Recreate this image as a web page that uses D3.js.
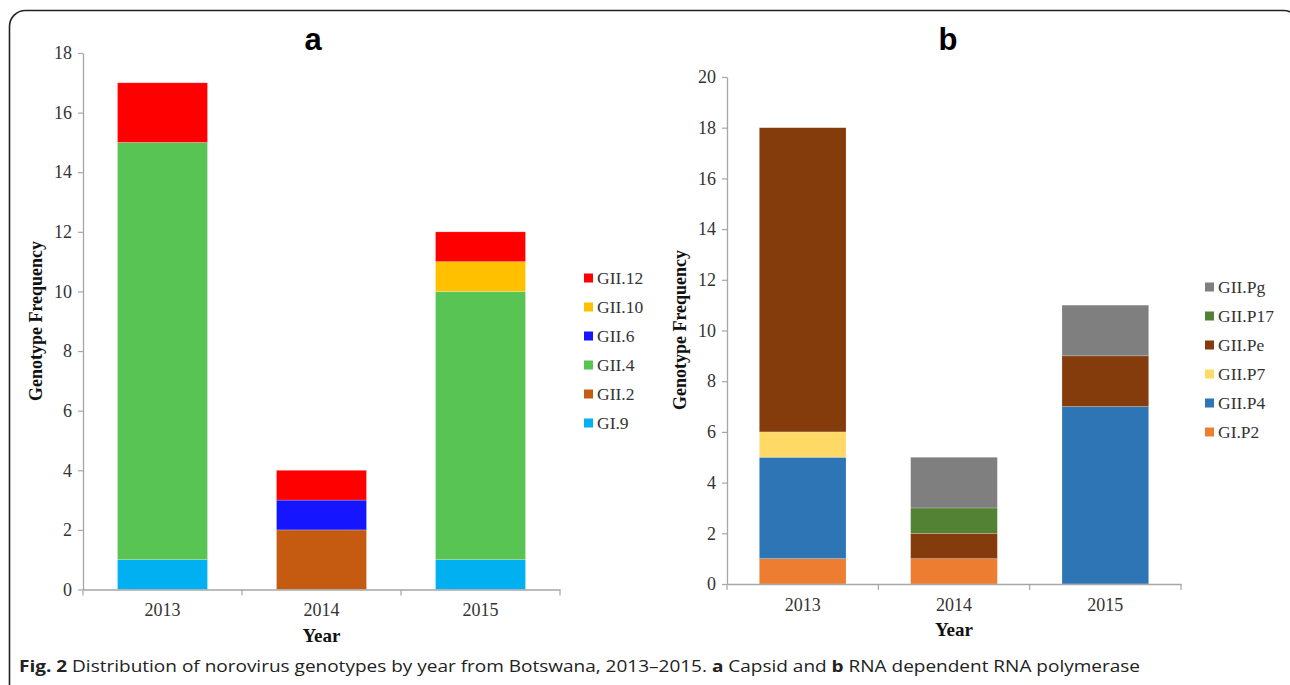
<!DOCTYPE html>
<html><head><meta charset="utf-8">
<script src="https://cdn.jsdelivr.net/npm/d3@7"></script>
<style>
html,body{margin:0;padding:0;background:#fff;}
svg{display:block;}
</style></head>
<body>
<svg id="c" width="1290" height="685"></svg>
<script>
// ---- data ----
const years = ["2013", "2014", "2015"];

// Panel a: capsid genotypes (bottom -> top)
const seriesA = ["GI.9", "GII.2", "GII.4", "GII.6", "GII.10", "GII.12"];
const colorsA = ["#00b0f0", "#c55a11", "#58c453", "#1515ff", "#ffc000", "#ff0000"];
const valuesA_GI9   = [1, 0, 1];
const valuesA_GII2  = [0, 2, 0];
const valuesA_GII4  = [14, 0, 9];
const valuesA_GII6  = [0, 1, 0];
const valuesA_GII10 = [0, 0, 1];
const valuesA_GII12 = [2, 1, 1];
const ticksA = [0, 2, 4, 6, 8, 10, 12, 14, 16, 18];

// Panel b: RdRp genotypes (bottom -> top)
const seriesB = ["GI.P2", "GII.P4", "GII.P7", "GII.Pe", "GII.P17", "GII.Pg"];
const colorsB = ["#ed7d31", "#2e75b6", "#ffd966", "#843c0c", "#548235", "#7f7f7f"];
const valuesB_GIP2   = [1, 1, 0];
const valuesB_GIIP4  = [4, 0, 7];
const valuesB_GIIP7  = [1, 0, 0];
const valuesB_GIIPe  = [12, 1, 2];
const valuesB_GIIP17 = [0, 1, 0];
const valuesB_GIIPg  = [0, 2, 2];
const ticksB = [0, 2, 4, 6, 8, 10, 12, 14, 16, 18, 20];

const caption = "Distribution of norovirus genotypes by year from Botswana, 2013\u20132015.";

const tableA = years.map((y, i) => ({year: y,
  "GI.9": valuesA_GI9[i], "GII.2": valuesA_GII2[i], "GII.4": valuesA_GII4[i],
  "GII.6": valuesA_GII6[i], "GII.10": valuesA_GII10[i], "GII.12": valuesA_GII12[i]}));
const tableB = years.map((y, i) => ({year: y,
  "GI.P2": valuesB_GIP2[i], "GII.P4": valuesB_GIIP4[i], "GII.P7": valuesB_GIIP7[i],
  "GII.Pe": valuesB_GIIPe[i], "GII.P17": valuesB_GIIP17[i], "GII.Pg": valuesB_GIIPg[i]}));

const svg = d3.select("#c");

// frame
svg.append("rect").attr("x", 9.5).attr("y", 10.5).attr("width", 1290).attr("height", 700)
  .attr("rx", 16).attr("fill", "#fff").attr("stroke", "#222").attr("stroke-width", 1.6);

const serif = "'Liberation Serif','Times New Roman',serif";
const axisCol = "#a6a6a6";
const textCol = "#333";

function panel(cfg) {
  const g = svg.append("g");
  const x = d3.scaleBand().domain(years).range([cfg.x0, cfg.x1]).paddingInner(cfg.pad).paddingOuter(cfg.pad / 2);
  const y = d3.scaleLinear().domain([0, cfg.max]).range([cfg.y0, cfg.y1]);
  const stack = d3.stack().keys(cfg.series)(cfg.table);
  const color = d3.scaleOrdinal().domain(cfg.series).range(cfg.colors);

  g.selectAll("g.layer").data(stack).join("g").attr("class", "layer")
    .attr("fill", d => color(d.key))
    .selectAll("rect").data(d => d.filter(p => p[1] - p[0] > 0)).join("rect")
    .attr("x", d => x(d.data.year)).attr("width", x.bandwidth())
    .attr("y", d => y(d[1])).attr("height", d => y(d[0]) - y(d[1]))
    .attr("stroke", "rgba(255,255,255,0.35)").attr("stroke-width", 0.6);

  // y axis
  const ya = g.append("g").attr("transform", `translate(${cfg.x0},0)`)
    .call(d3.axisLeft(y).tickValues(cfg.ticks).tickSize(5).tickPadding(6).tickSizeOuter(0));
  ya.select(".domain").attr("stroke", axisCol).attr("stroke-width", 1.3);
  ya.selectAll(".tick line").attr("stroke", axisCol).attr("stroke-width", 1.2);
  ya.selectAll(".tick text").attr("font-family", serif).attr("font-size", 18).attr("fill", textCol);

  // x axis
  const xa = g.append("g").attr("transform", `translate(0,${cfg.y0})`)
    .call(d3.axisBottom(x).tickSize(0).tickPadding(14));
  xa.select(".domain").attr("stroke", axisCol).attr("stroke-width", 1.3);
  xa.selectAll(".tick text").attr("font-family", serif).attr("font-size", 18).attr("fill", textCol);
  // category boundary ticks
  const edges = years.map(yr => x(yr) - x.step() * x.paddingInner() / 2).concat([cfg.x1]);
  xa.selectAll("line.edge").data(edges).join("line").attr("class", "edge")
    .attr("x1", d => d).attr("x2", d => d).attr("y1", 0).attr("y2", 6)
    .attr("stroke", axisCol).attr("stroke-width", 1.2);

  // axis titles
  g.append("text").attr("x", (cfg.x0 + cfg.x1) / 2).attr("y", cfg.yearY)
    .attr("text-anchor", "middle").attr("font-family", serif).attr("font-weight", "bold")
    .attr("font-size", 19).attr("fill", "#111").text("Year");
  g.append("text").attr("transform", `translate(${cfg.ylabX},${cfg.ylabY}) rotate(-90)`)
    .attr("text-anchor", "middle").attr("font-family", serif).attr("font-weight", "bold")
    .attr("font-size", 18).attr("fill", "#111").text("Genotype Frequency");

  // panel letter
  g.append("text").attr("x", cfg.titleX).attr("y", 50).attr("text-anchor", "middle")
    .attr("font-family", "'Liberation Sans',Arial,sans-serif").attr("font-weight", "bold")
    .attr("font-size", 31).attr("fill", "#000").text(cfg.title);

  // legend (top = last series)
  const legItems = cfg.series.slice().reverse();
  const lg = g.append("g");
  legItems.forEach((s, i) => {
    const cy = cfg.legY + i * 29;
    lg.append("rect").attr("x", cfg.legX).attr("y", cy - 4.5).attr("width", 9).attr("height", 9)
      .attr("fill", color(s));
    lg.append("text").attr("x", cfg.legX + 13).attr("y", cy + 6)
      .attr("font-family", serif).attr("font-size", 17.5).attr("fill", textCol).text(s);
  });
}

panel({table: tableA, series: seriesA, colors: colorsA, ticks: ticksA, max: 18,
  x0: 83, x1: 560, y0: 589.5, y1: 53, pad: 0.434,
  yearY: 642, ylabX: 42, ylabY: 321, title: "a", titleX: 313,
  legX: 584, legY: 278});

panel({table: tableB, series: seriesB, colors: colorsB, ticks: ticksB, max: 20,
  x0: 727, x1: 1181, y0: 584, y1: 77, pad: 0.427,
  yearY: 636, ylabX: 686, ylabY: 330, title: "b", titleX: 948,
  legX: 1205, legY: 287});

// caption
const cap = svg.append("text").attr("x", 19).attr("y", 672)
  .attr("font-family", "'Open Sans','Noto Sans',sans-serif").attr("font-size", 16.5).attr("fill", "#222");
cap.append("tspan").attr("font-weight", "bold").text("Fig. 2");
cap.append("tspan").text(" " + caption + " ");
cap.append("tspan").attr("font-weight", "bold").text("a");
cap.append("tspan").text(" Capsid and ");
cap.append("tspan").attr("font-weight", "bold").text("b");
cap.append("tspan").text(" RNA dependent RNA polymerase");
cap.attr("textLength", 1121).attr("lengthAdjust", "spacingAndGlyphs");
</script>
</body></html>
